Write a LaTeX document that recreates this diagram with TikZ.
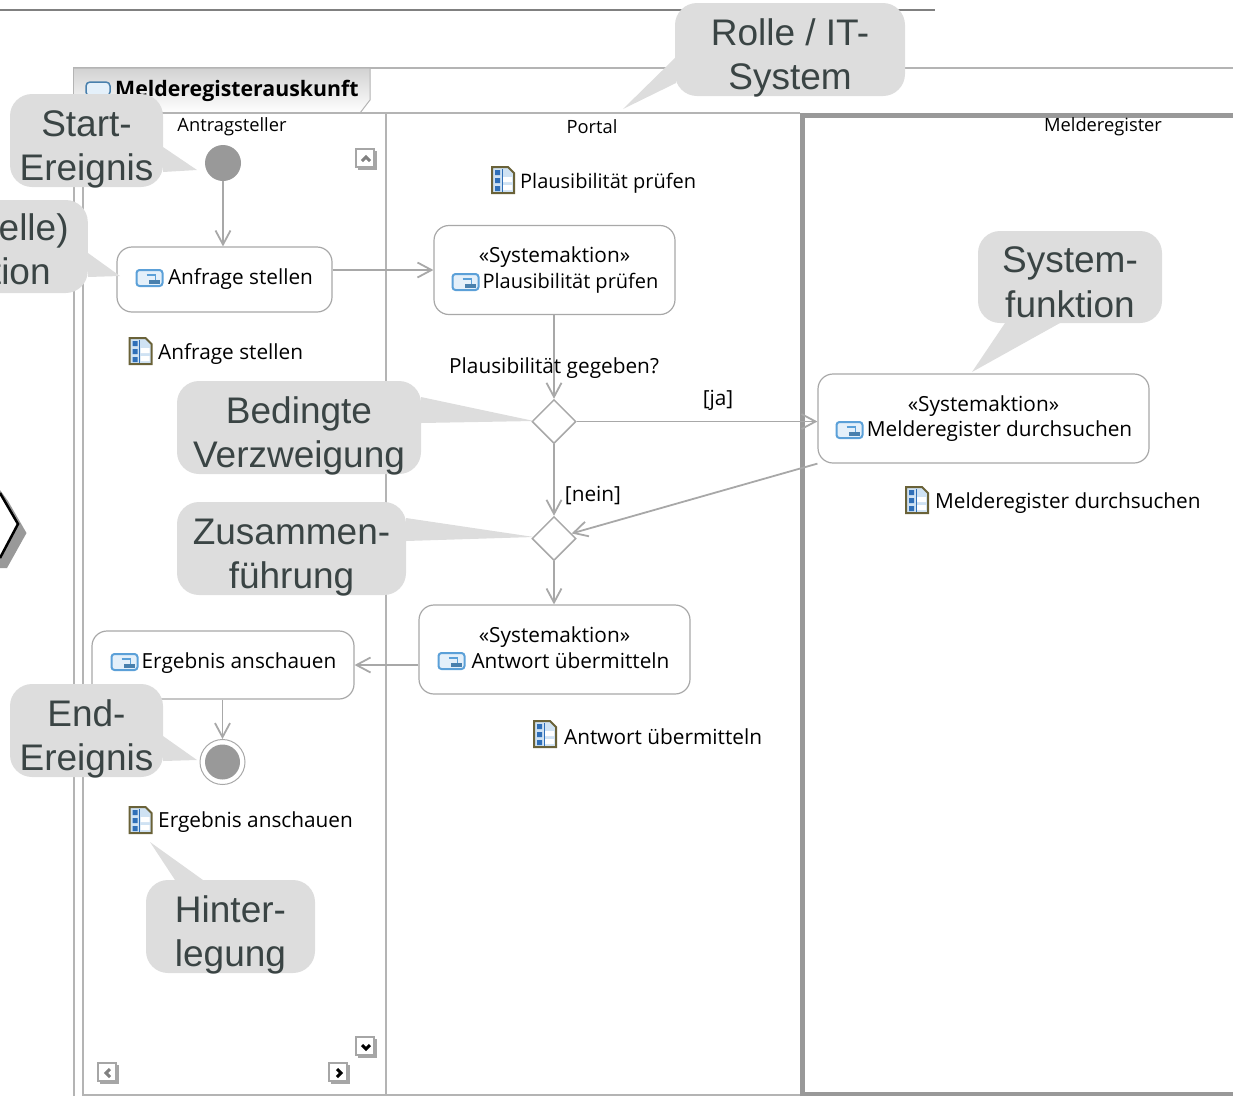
\documentclass[tikz,border=0pt]{standalone}
\usepackage{fontspec}
\setmainfont{Open Sans}
\newfontfamily\calloutfont{Liberation Sans}
\usepackage{amsmath}
\usetikzlibrary{positioning, arrows.meta, shapes.geometric, calc}

\definecolor{linegray}{HTML}{A8A8A8}
\definecolor{framegray}{HTML}{B4B4B4}
\definecolor{calloutgray}{HTML}{DDDDDD}
\definecolor{callouttext}{HTML}{3A4444}
\definecolor{eventgray}{HTML}{999999}
\definecolor{iconblue}{HTML}{5BA0D8}
\definecolor{iconfill}{HTML}{E4F0FA}
\definecolor{docfill}{HTML}{CFE2F3}
\definecolor{docframe}{HTML}{6A6238}
\definecolor{docblue}{HTML}{2F6FB8}

\tikzset{
  >={Straight Barb[length=14pt,width=15pt]},
  flow/.style={draw=linegray,line width=1.8pt},
  action/.style={shape=rectangle,draw=linegray,fill=white,line width=1.2pt,rounded corners=15pt,inner sep=0pt,align=center,font=\fontsize{20.8}{25.5}\selectfont},
  gateway/.style={shape=diamond,draw=linegray,fill=white,line width=1.5pt,minimum width=44pt,minimum height=44pt,inner sep=0pt},
  lbl/.style={inner sep=0pt,font=\fontsize{20.8}{25}\selectfont},
  lanelbl/.style={inner sep=0pt,font=\fontsize{18.3}{25}\selectfont},
  callout/.style={shape=rectangle,fill=calloutgray,rounded corners=22pt,inner sep=0pt,align=center,text=callouttext,text depth=0pt,text height=80pt,font=\calloutfont\fontsize{37}{44.5}\selectfont},
  pics/acticon/.style={code={
    \draw[iconblue,fill=iconfill,line width=2pt,rounded corners=3pt] (-13,-8) rectangle (13,8);
    \draw[iconblue,line width=1.5pt] (-3,-3) -- (6,-3) -- (6,2);
    \fill[iconblue!80!black] (-1,2) rectangle (10,6);
  }},
  pics/docicon/.style={code={
    \draw[docframe,fill=docfill,line width=2pt] (-11,-13) -- (5,-13) -- (11,-7) -- (11,13) -- (-11,13) -- cycle;
    \fill[docblue] (-8,-10) rectangle (-3,-5) (-8,-2) rectangle (-3,3) (-8,6) rectangle (-3,11);
    \fill[white] (0,-3) rectangle (9,2) (0,5) rectangle (9,10);
    \draw[docblue,line width=1pt] (-1,-11) -- (-1,12);
  }},
  pics/scrollbtn/.style 2 args={code={
    \fill[gray!70] (-8,-8) rectangle (11,11);
    \draw[gray!70,fill=white,line width=1.2pt] (-10,-10) rectangle (8,8);
    \draw[#1,line width=3pt,rotate=#2] (-4,2) -- (0,-2) -- (4,2);
  }},
}

\begin{document}
\begin{tikzpicture}[x=1pt,y=-1pt]
    \useasboundingbox (0,0) rectangle (1233,1096);

    % window frame
    \draw[gray,line width=1.5pt] (0,10) -- (935,10);
    \draw[framegray,line width=1.5pt] (74,1096) -- (74,68) -- (1233,68);
    \shade[top color=gray!35,bottom color=white] (74,68) -- (370,68) -- (370,100) -- (360,113) -- (74,113) -- cycle;
    \draw[framegray,line width=1pt] (74,68) -- (370,68) -- (370,100) -- (360,113);
    \draw[framegray,line width=1.5pt] (74,113) -- (800,113);
    \draw[framegray,line width=1.5pt] (83,113) -- (83,1096);
    \draw[framegray,line width=1.5pt] (83,1095) -- (800,1095);
    \draw[framegray,line width=1.5pt] (386,113) -- (386,1096);
    \draw[eventgray,line width=5pt] (802.5,1096) -- (802.5,115) -- (1233,115);
    \draw[eventgray,line width=4pt] (802.5,1094) -- (1233,1094);
    \draw[iconblue!80!black,fill=iconfill,line width=1.5pt,rounded corners=4pt] (86,82) rectangle (110,96);
    \node[lbl,anchor=west,font=\bfseries\fontsize{21.3}{25}\selectfont] (title) at (115,91) {Melderegisterauskunft};

    % lanes
    \node[lanelbl] (laneA) at (232,127) {Antragsteller};
    \node[lanelbl] (laneP) at (592,127) {Portal};
    \node[lanelbl] (laneM) at (1103,127) {Melderegister};

    % nodes
    \node[shape=circle,fill=eventgray,minimum size=36pt,inner sep=0pt] (start) at (223,163) {};
    \node[action,minimum width=215pt,minimum height=65pt] (anfrage) at (224.5,279.5) {\hspace*{32pt}Anfrage stellen};
    \node[action,minimum width=241pt,minimum height=89pt] (plaus) at (554.5,270) {«Systemaktion»\\\hspace*{32pt}{\fontsize{20}{25.5}\selectfont Plausibilität prüfen}};
    \node[gateway] (split) at (554,421.5) {};
    \node[gateway] (merge) at (554,538.5) {};
    \node[action,minimum width=331pt,minimum height=89pt] (melder) at (983.5,418.5) {«Systemaktion»\\\hspace*{32pt}Melderegister durchsuchen};
    \node[action,minimum width=271pt,minimum height=89pt,text depth=4pt] (antwort) at (554.5,649.5) {«Systemaktion»\\\hspace*{32pt}Antwort übermitteln};
    \node[action,minimum width=262pt,minimum height=68pt,text depth=8pt] (ergebnis) at (223,665) {\hspace*{32pt}Ergebnis anschauen};
    \node[shape=circle,draw=linegray,line width=1pt,minimum size=45pt,inner sep=0pt] (end) at (222.5,762) {};
    \node[shape=circle,fill=eventgray,minimum size=35pt,inner sep=0pt] (endin) at (222.5,762) {};

    % connectors
    \path[->] (start.south) edge[flow] (start.south |- anfrage.north);
    \path[->] (anfrage.east |- plaus.west) edge[flow] (plaus.west);
    \path[->] (plaus.south -| split.north) edge[flow] (split.north);
    \path[->] (split.south) edge[flow] (merge.north);
    \path[->] (split.east) edge[flow] (split.east -| melder.west);
    \path[->] (melder.south west) edge[flow] (merge.16);
    \path[->] (merge.south) edge[flow] (merge.south |- antwort.north);
    \path[->] (antwort.west |- ergebnis.east) edge[flow] (ergebnis.east);
    \path[->] (ergebnis.south -| end.north) edge[flow] (end.north);

    % labels
    \node[lbl,anchor=west,font=\fontsize{20}{25}\selectfont] (docplaus) at (520,183) {Plausibilität prüfen};
    \node[lbl,anchor=west] (docanfrage) at (158,354) {Anfrage stellen};
    \node[lbl,anchor=west] (question) at (449,368) {Plausibilität gegeben?};
    \node[lbl] (ja) at (718,400) {[ja]};
    \node[lbl] (nein) at (593,496) {[nein]};
    \node[lbl,anchor=west] (docmelder) at (935,503) {Melderegister durchsuchen};
    \node[lbl,anchor=west] (docantwort) at (564,737) {Antwort übermitteln};
    \node[lbl,anchor=west] (docergebnis) at (158,822) {Ergebnis anschauen};

    % icons
    \pic at (149.5,278) {acticon};
    \pic at (465.5,282) {acticon};
    \pic at (849.5,430) {acticon};
    \pic at (451.5,661) {acticon};
    \pic at (124.5,662) {acticon};
    \pic at (503,180) {docicon};
    \pic at (140.5,351) {docicon};
    \pic at (917,500) {docicon};
    \pic at (545,734) {docicon};
    \pic at (140.5,820) {docicon};
    \pic at (366,159) {scrollbtn={gray}{0}};
    \pic at (366,1047) {scrollbtn={black}{180}};
    \pic at (108,1073) {scrollbtn={gray}{90}};
    \pic at (339,1073) {scrollbtn={black}{-90}};

    % arrow cut off at the left edge
    \fill[gray!80] (8,501) -- (26.5,533) -- (7,568) -- (0,568) -- (0,490) -- cycle;
    \fill[white] (0,493) -- (18,524) -- (0,558) -- cycle;
    \draw[black,line width=2.5pt] (0,493) -- (18,524) -- (0,558);

    % callouts
    \fill[calloutgray] (676,57) -- (623,109) -- (676,83) -- cycle;
    \node[callout,minimum width=230pt,minimum height=93pt] (rolle) at (790,49.5) {Rolle / IT-\\System};
    \fill[calloutgray] (163,147) -- (197,170) -- (163,172) -- cycle;
    \node[callout,minimum width=153pt,minimum height=93pt] (startc) at (86.5,140.5) {Start-\\Ereignis};
    \fill[calloutgray] (88,253) -- (120,276) -- (88,277) -- cycle;
    \node[callout,anchor=east,minimum width=118pt,minimum height=93pt,align=right,text height=76pt] (taskc) at (88,246.5) {elle)\hspace*{19pt}\\\hspace*{21pt}tion\hspace*{37pt}};
    \fill[calloutgray] (1005,323) -- (972,372) -- (1060,323) -- cycle;
    \node[callout,minimum width=184pt,minimum height=92pt] (sysc) at (1070,277) {System-\\funktion};
    \fill[calloutgray] (421,397) -- (534,421) -- (421,423) -- cycle;
    \node[callout,minimum width=244pt,minimum height=93pt] (splitc) at (299,427.5) {Bedingte\\Verzweigung};
    \fill[calloutgray] (406,518) -- (534,537) -- (406,541) -- cycle;
    \node[callout,minimum width=229pt,minimum height=93pt] (mergec) at (291.5,548.5) {Zusammen-\\führung};
    \fill[calloutgray] (163,736) -- (197,760) -- (163,761) -- cycle;
    \node[callout,minimum width=153pt,minimum height=93pt] (endc) at (86.5,730.5) {End-\\Ereignis};
    \fill[calloutgray] (175,880) -- (150,842) -- (203,880) -- cycle;
    \node[callout,minimum width=169pt,minimum height=93pt] (hintc) at (230.5,926.5) {Hinter-\\legung};
\end{tikzpicture}
\end{document}
